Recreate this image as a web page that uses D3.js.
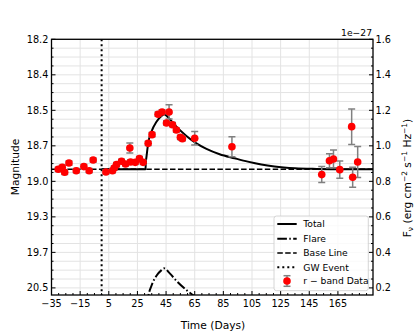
<!DOCTYPE html>
<html><head><meta charset="utf-8">
<script src="https://cdn.jsdelivr.net/npm/d3@7"></script>
<style>body{margin:0;background:#fff}svg{display:block;font-family:"DejaVu Sans",sans-serif}</style>
</head><body><svg id="c" width="415" height="332"></svg>
<script>
// ---- data ----
const obsDays = [-30.3,-27.5,-25.8,-22.8,-17.7,-12.4,-8.7,-5.9,3.0,7.6,8.8,10.4,13.9,16.7,19.7,20.2,23.5,26.4,29.0,32.5,35.2,39.4,42.2,45.3,47.1,49.5,52.2,55.0,56.4,65.0,91.0,153.7,159.1,161.9,166.3,174.6,175.3,178.8];
const obsFlux = [0.868,0.879,0.851,0.903,0.860,0.883,0.860,0.920,0.853,0.860,0.875,0.894,0.913,0.898,0.988,0.909,0.907,0.928,0.907,1.014,1.063,1.178,1.191,1.129,1.191,1.119,1.089,1.048,1.040,1.043,0.995,0.838,0.916,0.926,0.866,1.108,0.823,0.909];
const obsErr  = [0.012,0.012,0.012,0.012,0.012,0.012,0.012,0.012,0.012,0.012,0.012,0.012,0.012,0.012,0.028,0.012,0.012,0.012,0.012,0.012,0.012,0.012,0.012,0.012,0.040,0.012,0.012,0.012,0.012,0.038,0.056,0.045,0.040,0.050,0.049,0.100,0.056,0.087];
const baseLine = 0.868;
const gwDay = 0;
const flareDays = [30.6,30.9,31.4,32.5,34.8,38.3,41.8,43.6,47.6,52.2,59.2,66.2,73.2,82.4,92.9,102.1,111.5,120.7,135,150,170,189.5];
const flareFlux = [0,0.04,0.075,0.146,0.212,0.268,0.30,0.31,0.282,0.24,0.188,0.146,0.115,0.085,0.062,0.043,0.027,0.016,0.006,0.002,0,0];
const xTicks = [-35,-15,5,25,45,65,85,105,125,145,165];
const fluxTicks = [1.6,1.4,1.2,1.0,0.8,0.6,0.4,0.2];
const magLabels = ["18.2","18.4","18.5","18.7","19.0","19.3","19.7","20.5"];
const legendItems = ["Total","Flare","Base Line","GW Event","r \u2212 band Data"];

// ---- layout ----
const L=51.5, R=373, T=39.3, B=295;
const x = d3.scaleLinear().domain([-35,189.5]).range([L,R]);
const y = d3.scaleLinear().domain([0.16,1.6]).range([B,T]);
const svg = d3.select("#c");

svg.append("defs").append("clipPath").attr("id","clip")
  .append("rect").attr("x",L).attr("y",T).attr("width",R-L).attr("height",B-T);

// grid
const grid = svg.append("g").attr("stroke","#e3e3e3").attr("stroke-width",1);
const minorY = d3.range(0.2,1.6001,0.05);
grid.selectAll("line.h").data(minorY).join("line")
  .attr("x1",L).attr("x2",R).attr("y1",d=>y(d)).attr("y2",d=>y(d));
grid.selectAll("line.v").data(xTicks).join("line")
  .attr("y1",T).attr("y2",B).attr("x1",d=>x(d)).attr("x2",d=>x(d));

const plot = svg.append("g").attr("clip-path","url(#clip)");

// baseline
plot.append("line").attr("x1",x(-35)).attr("x2",x(189.5)).attr("y1",y(baseLine)).attr("y2",y(baseLine))
  .attr("stroke","#000").attr("stroke-width",1.5).attr("stroke-dasharray","5.5,2.4");

// flare
const flarePts = flareDays.map((d,i)=>[d,flareFlux[i]]);
plot.append("path").datum(flarePts)
  .attr("d",d3.line().x(d=>x(d[0])).y(d=>y(d[1])).curve(d3.curveMonotoneX))
  .attr("fill","none").attr("stroke","#000").attr("stroke-width",2)
  .attr("stroke-dasharray","9.6,2.4,1.5,2.4");

// total
const totalPts = [[gwDay,baseLine]].concat(flarePts.map(p=>[p[0],baseLine+p[1]]));
plot.append("path").datum(totalPts)
  .attr("d",d3.line().x(d=>x(d[0])).y(d=>y(d[1])).curve(d3.curveMonotoneX))
  .attr("fill","none").attr("stroke","#000").attr("stroke-width",2);

// GW event
plot.append("line").attr("x1",x(gwDay)).attr("x2",x(gwDay)).attr("y1",T).attr("y2",B)
  .attr("stroke","#000").attr("stroke-width",2).attr("stroke-dasharray","2,3");

// error bars
const eb = plot.append("g").attr("stroke","#808080").attr("stroke-width",1.5);
obsDays.forEach((d,i)=>{
  const cx=x(d), y1=y(obsFlux[i]+obsErr[i]), y2=y(obsFlux[i]-obsErr[i]);
  eb.append("line").attr("x1",cx).attr("x2",cx).attr("y1",y1).attr("y2",y2);
  eb.append("line").attr("x1",cx-3.5).attr("x2",cx+3.5).attr("y1",y1).attr("y2",y1);
  eb.append("line").attr("x1",cx-3.5).attr("x2",cx+3.5).attr("y1",y2).attr("y2",y2);
});
plot.append("g").selectAll("circle").data(obsDays).join("circle")
  .attr("cx",d=>x(d)).attr("cy",(d,i)=>y(obsFlux[i])).attr("r",3.8).attr("fill","#ff0000");

// spines
const sp = svg.append("g").attr("stroke","#000").attr("stroke-width",1.3).attr("fill","none");
sp.append("rect").attr("x",L).attr("y",T).attr("width",R-L).attr("height",B-T);

// ticks (inward)
const tk = svg.append("g").attr("stroke","#000").attr("stroke-width",1);
const minorX = d3.range(-35,189.5,5).filter(v=>!xTicks.includes(v));
xTicks.forEach(v=>tk.append("line").attr("x1",x(v)).attr("x2",x(v)).attr("y1",B).attr("y2",B-4));
minorX.forEach(v=>tk.append("line").attr("x1",x(v)).attr("x2",x(v)).attr("y1",B).attr("y2",B-2));
minorY.forEach(v=>{
  const major = fluxTicks.some(f=>Math.abs(f-v)<1e-6);
  const len = major?4:2;
  tk.append("line").attr("x1",L).attr("x2",L+len).attr("y1",y(v)).attr("y2",y(v));
  tk.append("line").attr("x1",R).attr("x2",R-len).attr("y1",y(v)).attr("y2",y(v));
});

// tick labels
const tl = svg.append("g").attr("font-size","9.7px").attr("fill","#000");
xTicks.forEach(v=>tl.append("text").attr("x",x(v)).attr("y",306.7).attr("text-anchor","middle")
  .text(String(v).replace("-","\u2212")));
fluxTicks.forEach((v,i)=>{
  tl.append("text").attr("x",48.3).attr("y",y(v)).attr("dy","0.36em").attr("text-anchor","end").text(magLabels[i]);
  tl.append("text").attr("x",375.5).attr("y",y(v)).attr("dy","0.36em").attr("text-anchor","start").text(v.toFixed(1));
});
svg.append("text").attr("x",372).attr("y",36).attr("text-anchor","end").attr("font-size","9.2px").text("1e\u221227");

// axis labels
svg.append("text").attr("x",213).attr("y",329).attr("text-anchor","middle").attr("font-size","10.7px").text("Time (Days)");
svg.append("text").attr("transform","translate(19.2,167) rotate(-90)").attr("text-anchor","middle")
  .attr("font-size","10.7px").text("Magnitude");
const rl = svg.append("text").attr("transform","translate(410.7,178) rotate(-90)").attr("text-anchor","middle")
  .attr("font-size","10.7px");
rl.append("tspan").text("F");
rl.append("tspan").attr("font-size","7.5px").attr("dy","2").text("\u03bd");
rl.append("tspan").attr("dy","-2").text(" (erg cm");
rl.append("tspan").attr("font-size","7.5px").attr("dy","-4").text("\u22122");
rl.append("tspan").attr("dy","4").text(" s");
rl.append("tspan").attr("font-size","7.5px").attr("dy","-4").text("\u22121");
rl.append("tspan").attr("dy","4").text(" Hz");
rl.append("tspan").attr("font-size","7.5px").attr("dy","-4").text("\u22121");
rl.append("tspan").attr("dy","4").text(")");

// legend
const lg = svg.append("g");
lg.append("rect").attr("x",274).attr("y",216).attr("width",94.3).attr("height",74.7).attr("rx",2.5)
  .attr("fill","#fff").attr("fill-opacity",0.8).attr("stroke","#cccccc").attr("stroke-width",0.8);
const ly = [224,238.7,253,267.3,281];
const dashes = [null,"9.6,2.4,1.5,2.4","5.5,2.4","2,3"];
legendItems.forEach((t,i)=>{
  if(i<4){
    lg.append("line").attr("x1",277.3).attr("x2",296.7).attr("y1",ly[i]).attr("y2",ly[i])
      .attr("stroke","#000").attr("stroke-width",i===2?1.5:2).attr("stroke-dasharray",dashes[i]);
  } else {
    const cx=287;
    lg.append("line").attr("x1",cx).attr("x2",cx).attr("y1",ly[i]-5.3).attr("y2",ly[i]+5.3).attr("stroke","#808080").attr("stroke-width",1.5);
    lg.append("line").attr("x1",cx-3.5).attr("x2",cx+3.5).attr("y1",ly[i]-5.3).attr("y2",ly[i]-5.3).attr("stroke","#808080").attr("stroke-width",1.5);
    lg.append("line").attr("x1",cx-3.5).attr("x2",cx+3.5).attr("y1",ly[i]+5.3).attr("y2",ly[i]+5.3).attr("stroke","#808080").attr("stroke-width",1.5);
    lg.append("circle").attr("cx",cx).attr("cy",ly[i]).attr("r",3.8).attr("fill","#ff0000");
  }
  lg.append("text").attr("x",303.3).attr("y",ly[i]).attr("dy","0.36em").attr("font-size","9.2px").text(t);
});
</script></body></html>
